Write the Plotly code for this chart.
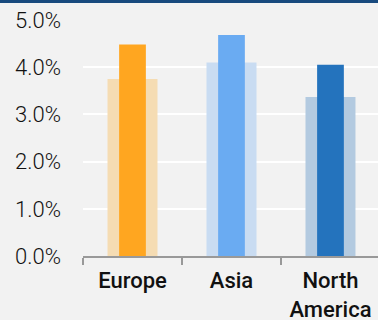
import plotly.graph_objects as go

categories = ["Europe", "Asia", "North<br>America"]
back_values = [3.75, 4.1, 3.37]
front_values = [4.48, 4.68, 4.05]
back_colors = ["#F5DCB3", "#C9DCF2", "#B3CAE0"]
front_colors = ["#FFA620", "#6AABF2", "#2473BD"]
y_ticks = [0, 1, 2, 3, 4, 5]
y_labels = ["0.0%", "1.0%", "2.0%", "3.0%", "4.0%", "5.0%"]

fig = go.Figure()
fig.add_trace(go.Bar(x=categories, y=back_values, width=0.505,
                     marker=dict(color=back_colors, line=dict(width=0)),
                     hoverinfo="skip"))
fig.add_trace(go.Bar(x=categories, y=front_values, width=0.27,
                     marker=dict(color=front_colors, line=dict(width=0)),
                     hoverinfo="skip"))

fig.update_layout(
    width=378, height=320,
    margin=dict(l=83, r=0, t=20, b=64),
    paper_bgcolor="#F2F2F2", plot_bgcolor="#F2F2F2",
    barmode="overlay", showlegend=False,
    xaxis=dict(range=[-0.5, 2.48], tickson="boundaries", ticks="outside",
               ticklen=7, tickwidth=1.5, tickcolor="#999999",
               showline=True, linecolor="#999999", linewidth=1.5,
               showgrid=False, ticklabelstandoff=4, automargin=False,
               tickfont=dict(family="Roboto", size=22, color="#111111", weight=500)),
    yaxis=dict(range=[0, 5], tickvals=y_ticks, ticktext=y_labels,
               showgrid=True, gridcolor="#FFFFFF", gridwidth=2,
               zeroline=False, ticks="", ticklabelstandoff=21, automargin=False,
               tickfont=dict(family="Roboto", size=22, color="#111111", weight=300)),
    shapes=[dict(type="rect", xref="paper", yref="paper",
                 x0=-0.5, x1=1.5, y0=1 + 17 / 236, y1=1.2,
                 fillcolor="#184A7E", line=dict(width=0), layer="above")],
)
fig.write_html("out.html")
